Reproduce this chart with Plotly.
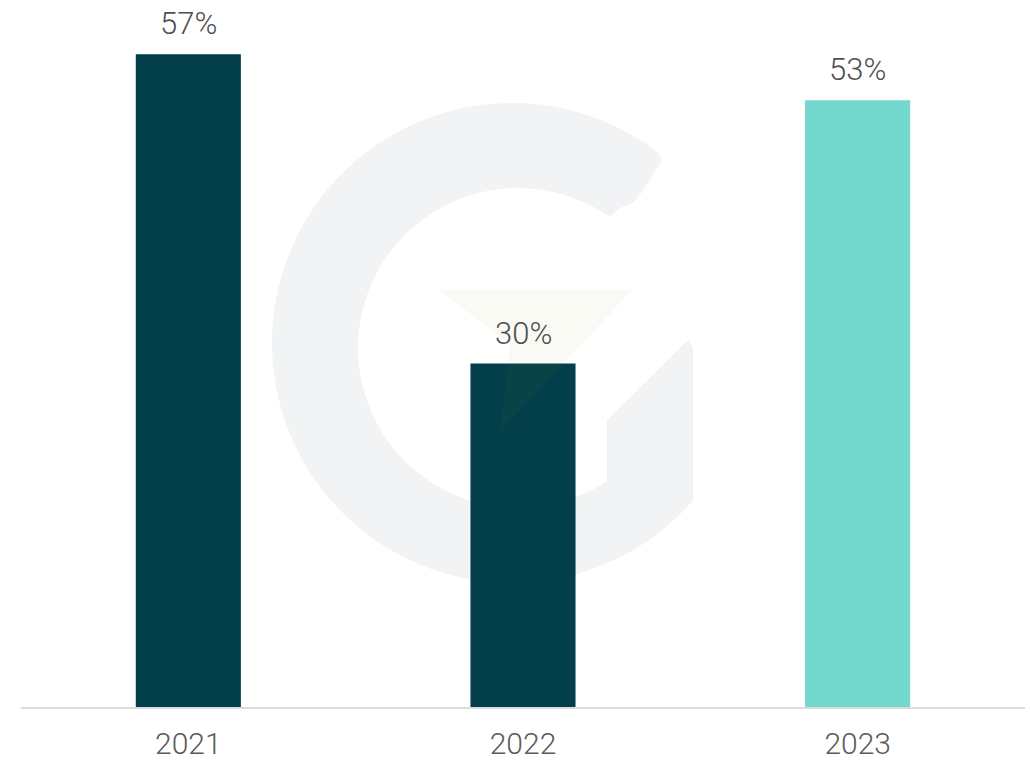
import numpy as np
import plotly.graph_objects as go

# ---- data ----
years = ["2021", "2022", "2023"]
values = [57, 30, 53]
bar_colors = ["#023f4a", "#023f4a", "#73d8cd"]
labels = [f"{v}%" for v in values]

W, H = 1030, 762
ML, MR, MT, MB = 21, 5, 20, 55
PW, PH = W - ML - MR, H - MT - MB


def px(x, y):
    """pixel -> paper coords (decoration only)"""
    return (x - ML) / PW, (H - MB - y) / PH


def path_from(points):
    pts = [px(x, y) for x, y in points]
    s = "M " + " L ".join(f"{a:.5f},{b:.5f}" for a, b in pts) + " Z"
    return s


# watermark "G" geometry (decoration)
cxo, cyo, Ro = 512, 343, 240
cxi, cyi, Ri = 518, 348, 160
outer = [(cxo + Ro * np.cos(np.radians(a)), cyo + Ro * np.sin(np.radians(a)))
         for a in np.linspace(-53, -319, 90)]
inner = [(cxi + Ri * np.cos(np.radians(a)), cyi + Ri * np.sin(np.radians(a)))
         for a in np.linspace(57, 305, 90)]
g_pts = (outer + [(693, 500), (693, 347), (688, 340), (607, 420), (607, 482)] + inner
         + [(620, 208), (633, 203), (642, 192), (662, 160)])
tri_pts = [(440, 290), (632, 290), (500, 432), (510, 345)]

fig = go.Figure()
fig.add_trace(go.Bar(
    x=years, y=values,
    marker=dict(color=bar_colors),
    marker_line_width=0,
    hoverinfo="skip",
))

# value labels (category axis: annotation x given as category index)
for i, (v, lab) in enumerate(zip(values, labels)):
    fig.add_annotation(
        x=i, y=v, xref="x", yref="y", text=lab, showarrow=False,
        yanchor="bottom", yshift=10,
        font=dict(family="Roboto", size=31, color="#4f4f4f", weight=300),
    )

fig.add_shape(type="path", xref="paper", yref="paper", path=path_from(g_pts),
              fillcolor="#f2f3f5", line=dict(width=0), layer="below")
fig.add_shape(type="path", xref="paper", yref="paper", path=path_from(tri_pts),
              fillcolor="rgba(140,160,40,0.05)", line=dict(width=0), layer="above")

fig.update_layout(
    width=W, height=H,
    margin=dict(l=ML, r=MR, t=MT, b=MB, autoexpand=False),
    paper_bgcolor="white", plot_bgcolor="rgba(0,0,0,0)",
    bargap=0.686,
    showlegend=False,
    xaxis=dict(type="category", categoryorder="array", categoryarray=years,
               range=[-0.5, len(years) - 0.5], autorange=False,
               showline=True, linecolor="#dcdcdc", linewidth=2,
               showgrid=False, automargin=False,
               ticks="", ticklabelstandoff=9, zeroline=False,
               tickfont=dict(family="Roboto", size=30, color="#5a5a5a", weight=300)),
    yaxis=dict(range=[0, 60], autorange=False, visible=False, showgrid=False,
               zeroline=False, automargin=False),
)

fig.write_html("out.html")
